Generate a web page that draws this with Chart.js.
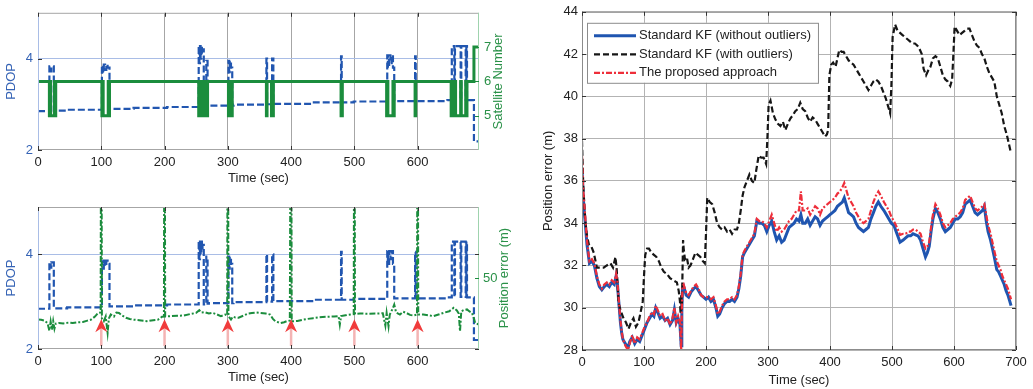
<!DOCTYPE html>
<html>
<head>
<meta charset="utf-8">
<script src="https://cdn.jsdelivr.net/npm/chart.js@4.4.1/dist/chart.umd.min.js"></script>
<style>
  body { margin: 0; background: #fff; width: 1033px; height: 389px; position: relative; overflow: hidden; }
  canvas { position: absolute; }
</style>
</head>
<body>
<canvas id="satChart" width="520" height="190" style="left:0;top:0"></canvas>
<canvas id="errChart" width="520" height="199" style="left:0;top:190px"></canvas>
<canvas id="kfChart" width="513" height="389" style="left:520px;top:0"></canvas>
<script>
// ---- left panels: PDOP, satellites, raw position error ----
var pdopT = [0, 18, 20, 21, 25, 46,
  101, 103, 104, 106, 108, 110, 113, 151, 204,
  254, 255, 256, 257, 258, 259, 260, 262, 266, 268, 270,
  301, 302, 303, 305, 307, 309,
  361, 362, 370, 372, 436,
  479, 480, 499,
  552, 553, 555, 557, 559, 561, 563,
  596, 597, 647,
  654, 658, 659, 668, 669, 676, 677, 678,
  689, 697];
var pdopV = [2.85, 3.83, 3.72, 3.83, 2.86, 2.88,
  3.85, 3.7, 3.87, 3.75, 3.87, 3.8, 2.9, 2.92, 2.94,
  4.27, 3.9, 4.27, 4.0, 4.27, 4.1, 4.2, 2.94, 3.95, 2.96, 2.97,
  3.95, 3.7, 3.95, 3.8, 2.97, 2.99,
  4.0, 3.0, 4.0, 3.01, 3.04,
  4.05, 3.04, 3.06,
  4.07, 3.8, 4.07, 3.9, 4.07, 3.8, 3.07,
  4.05, 3.07, 3.09,
  4.27, 3.1, 4.27, 3.1, 4.27, 3.1, 4.27, 3.09,
  2.19, 2.19];

var satT = [0, 18, 19, 20, 26, 27, 28,
  101, 102, 103, 111, 112, 113,
  254, 255, 256, 257, 258, 259, 260, 262, 266, 268,
  301, 302, 303, 307,
  361, 362, 369, 370, 371, 372,
  479, 481,
  551, 552, 553, 561, 562, 563,
  596, 597,
  653, 654, 655, 659, 660, 668, 669, 676, 677, 678,
  689, 697];
var satV = [6, 5, 6, 5, 6, 5, 6,
  5, 6, 5, 6, 5, 6,
  5, 6, 5, 6, 5, 6, 5, 6, 5, 6,
  5, 6, 5, 6,
  5, 6, 5, 6, 5, 6,
  5, 6,
  5, 6, 5, 6, 5, 6,
  5, 6,
  5, 6, 5, 6, 5, 6, 5, 6, 5, 6,
  7, 7];

var errT = [0, 5, 10, 15, 18, 20, 22, 24, 26, 28,
  33, 40, 48, 55, 63, 71, 78, 84, 90, 95,
  99, 100, 101, 104, 107, 110, 112, 115, 120, 124,
  128, 133, 139, 145, 150, 160, 172, 182, 190, 196,
  199, 200, 201, 210, 220, 230, 240, 250, 255, 258,
  263, 270, 276, 283, 289, 296, 299, 300, 301, 305,
  308, 312, 317, 325, 332, 338, 345, 351, 360, 367,
  371, 375, 383, 389, 393, 398, 400, 401, 410, 418,
  425, 435, 445, 457, 468, 475, 477, 479, 486, 494,
  499, 500, 501, 509, 520, 535, 545, 549, 551, 554,
  556, 560, 563, 566, 572, 577, 582, 588, 593, 599,
  600, 601, 609, 617, 625, 633, 641, 650, 657, 662,
  665, 667, 669, 673, 678, 682, 686, 689, 691, 697];
var errV = [29.5, 29.4, 29.0, 27.8, 24.0, 28.5, 24.5, 28.7, 25.0, 27.5,
  27.8, 27.6, 28.0, 27.8, 28.2, 28.3, 29.0, 29.5, 31.0, 32.8,
  33.0, 200, 30.0, 28.7, 31.0, 23.0, 30.0, 32.0, 31.0, 33.0,
  32.8, 31.5, 30.4, 29.8, 29.5, 29.2, 28.7, 29.2, 29.5, 30.9,
  31.0, 200, 31.0, 31.2, 31.4, 31.5, 32.2, 32.8, 34.1, 33.0,
  33.2, 32.5, 32.8, 32.0, 31.2, 32.0, 31.5, 200, 31.2, 29.5,
  31.0, 30.5, 30.4, 31.5, 32.5, 32.8, 33.0, 32.8, 32.5, 32.0,
  30.0, 28.7, 27.8, 28.2, 28.7, 29.0, 200, 28.7, 28.8, 29.4,
  29.8, 30.2, 30.6, 30.9, 31.0, 31.2, 27.0, 31.2, 31.6, 32.0,
  32.2, 200, 32.3, 32.5, 32.4, 32.5, 32.6, 26.5, 32.8, 26.2,
  32.0, 34.5, 36.9, 33.0, 32.0, 33.4, 32.8, 31.8, 31.5, 32.0,
  200, 32.0, 32.0, 31.6, 31.2, 32.0, 32.8, 33.6, 35.3, 34.0,
  32.5, 23.7, 33.6, 34.2, 34.5, 33.5, 32.8, 30.0, 27.8, 27.0];

var outlierT = [100, 200, 300, 400, 500, 600];
var timeTicksLeft = [0, 100, 200, 300, 400, 500, 600];
var pdopTicks = [2, 4];
var satTicks = [5, 6, 7];
var errTicks = [50];

// ---- right panel: position error of the filters ----
var kfT = [0, 2, 5, 8, 12, 16, 20, 24, 28, 32,
  36, 40, 44, 48, 52, 55, 57, 59, 62, 64,
  66, 70, 74, 77, 81, 85, 89, 93, 97, 101,
  105, 109, 113, 116, 119, 122, 126, 130, 134, 138,
  142, 146, 149, 152, 155, 158, 160, 161, 162, 164,
  168, 172, 176, 180, 184, 188, 192, 196, 200, 204,
  208, 212, 216, 219, 222, 226, 230, 234, 238, 242,
  246, 250, 253, 256, 259, 262, 266, 270, 274, 278,
  282, 286, 290, 294, 298, 302, 306, 310, 314, 318,
  322, 326, 330, 334, 338, 342, 346, 350, 353, 356,
  360, 364, 368, 372, 376, 380, 384, 388, 392, 396,
  400, 404, 408, 412, 416, 420, 423, 426, 430, 434,
  438, 442, 446, 450, 454, 458, 462, 466, 470, 474,
  478, 482, 487, 491, 495, 499, 503, 508, 513, 518,
  522, 526, 530, 534, 538, 542, 546, 550, 554, 557,
  560, 563, 566, 570, 574, 578, 582, 586, 590, 594,
  598, 602, 606, 610, 614, 618, 622, 626, 630, 634,
  638, 642, 646, 649, 652, 655, 659, 662, 665, 669,
  672, 675, 678, 681, 684, 687, 690, 692];
var kfPlain = [36.6, 35.2, 34.1, 33.0, 32.1, 32.2, 32.0, 31.4, 31.0, 30.85,
  31.0, 31.1, 31.0, 31.2, 31.1, 31.5, 31.2, 30.4, 29.3, 28.8,
  28.5, 28.3, 28.1, 28.4, 28.6, 28.3, 28.5, 28.4, 28.7, 29.0,
  29.3, 29.5, 29.7, 29.6, 30.0, 29.8, 29.5, 29.6, 29.4, 29.5,
  29.2, 29.4, 29.9, 29.3, 29.5, 29.2, 28.2, 29.8, 30.9, 31.0,
  30.6, 30.5, 30.75, 30.9, 31.0, 30.8, 30.6, 30.5, 30.4, 30.5,
  30.3, 30.4, 30.0, 29.6, 29.7, 30.0, 30.2, 30.3, 30.3, 30.4,
  30.3, 30.5, 30.9, 31.5, 32.4, 32.6, 32.8, 33.0, 33.2, 33.4,
  34.1, 34.0, 34.0, 33.9, 33.6, 33.9, 34.1, 33.6, 33.2, 33.4,
  33.1, 33.2, 33.5, 33.8, 33.9, 34.0, 34.2, 34.1, 34.4, 34.0,
  34.0, 34.2, 33.9, 34.1, 34.3, 34.2, 33.9, 34.1, 34.2, 34.3,
  34.4, 34.5, 34.6, 34.8, 34.9, 35.0, 35.2, 34.9, 34.5, 34.4,
  34.3, 34.0, 33.8, 33.7, 33.6, 33.7, 33.8, 34.2, 34.5, 34.8,
  35.0, 34.8, 34.6, 34.4, 34.2, 34.0, 33.9, 33.5, 33.1, 33.2,
  33.3, 33.4, 33.4, 33.5, 33.45, 33.4, 33.2, 32.8, 32.4, 32.6,
  32.9, 33.6, 34.2, 34.7, 34.5, 34.2, 33.8, 33.6, 33.7, 33.8,
  34.0, 34.2, 34.2, 34.3, 34.5, 34.9, 35.0, 35.1, 34.8, 34.5,
  34.4, 34.5, 34.6, 34.8, 34.1, 33.6, 33.2, 32.8, 32.4, 31.8,
  31.7, 31.5, 31.3, 31.1, 30.8, 30.6, 30.3, 30.1];
var kfProposed = [37.2, 35.6, 34.4, 33.2, 32.2, 32.3, 32.1, 31.5, 31.1, 30.9,
  31.1, 31.2, 31.1, 31.3, 31.2, 31.6, 31.3, 30.5, 29.4, 28.9,
  28.5, 28.2, 28.0, 28.3, 28.7, 28.3, 28.6, 28.5, 28.8, 29.1,
  29.3, 29.6, 29.8, 29.7, 30.1, 29.9, 29.6, 29.7, 29.4, 29.5,
  29.2, 29.5, 30.0, 29.3, 29.6, 29.3, 28.0, 29.9, 31.0, 31.1,
  30.7, 30.6, 30.8, 31.0, 31.1, 30.9, 30.6, 30.5, 30.5, 30.5,
  30.4, 30.5, 30.1, 29.7, 29.8, 30.1, 30.3, 30.4, 30.4, 30.5,
  30.4, 30.6, 31.0, 31.6, 32.5, 32.7, 32.9, 33.1, 33.3, 33.5,
  34.2, 34.1, 34.1, 34.0, 33.8, 34.1, 34.4, 34.0, 33.6, 33.8,
  33.6, 33.7, 33.9, 34.1, 34.2, 34.4, 34.6, 34.6, 35.5, 34.6,
  34.6, 34.7, 34.4, 34.6, 34.8, 34.7, 34.4, 34.7, 34.8, 34.9,
  35.0, 35.1, 35.2, 35.4, 35.5, 35.7, 35.9, 35.6, 35.2, 35.0,
  34.8, 34.5, 34.3, 34.1, 34.0, 34.1, 34.2, 34.6, 35.0, 35.3,
  35.5, 35.3, 35.0, 34.8, 34.6, 34.3, 34.1, 33.8, 33.45, 33.5,
  33.5, 33.6, 33.6, 33.7, 33.7, 33.6, 33.5, 33.1, 32.8, 32.9,
  33.1, 33.8, 34.4, 34.9, 34.7, 34.4, 34.0, 33.8, 33.9, 34.0,
  34.2, 34.3, 34.4, 34.5, 34.7, 35.1, 35.2, 35.3, 35.0, 34.7,
  34.6, 34.7, 34.8, 34.9, 34.4, 33.9, 33.5, 33.1, 32.7, 32.2,
  32.0, 31.8, 31.5, 31.3, 31.1, 30.9, 30.6, 30.4];

var kfOutT = [0, 2, 5, 8, 11, 15, 19, 24, 30, 35,
  40, 46, 50, 54, 56, 59, 63, 67, 71, 75,
  79, 83, 87, 91, 94, 98, 100, 102, 105, 108,
  112, 116, 120, 124, 128, 132, 137, 142, 147, 153,
  156, 158, 159, 160, 161, 162, 163, 164, 166, 169,
  172, 175, 179, 183, 187, 191, 195, 198, 200, 202,
  206, 210, 214, 218, 222, 226, 230, 234, 238, 242,
  246, 250, 253, 256, 259, 262, 266, 270, 274, 278,
  281, 285, 289, 293, 297, 299, 301, 304, 308, 312,
  316, 320, 324, 328, 332, 336, 340, 344, 348, 352,
  356, 360, 364, 368, 372, 376, 380, 384, 388, 392,
  395, 397, 399, 402, 405, 409, 412, 415, 419, 422,
  426, 430, 434, 438, 442, 446, 450, 454, 458, 462,
  466, 470, 474, 478, 482, 486, 490, 494, 497, 499,
  501, 505, 509, 513, 517, 521, 525, 529, 533, 537,
  541, 545, 548, 551, 555, 558, 562, 566, 570, 574,
  578, 582, 586, 590, 594, 597, 599, 601, 605, 609,
  613, 617, 621, 625, 629, 633, 637, 641, 645, 649,
  653, 657, 661, 665, 669, 673, 677, 681, 685, 689,
  692];
var kfOutlier = [37.9, 35.8, 34.2, 33.4, 33.0, 32.9, 32.6, 31.9, 31.9, 31.9,
  32.0, 32.1, 31.9, 32.4, 31.8, 30.2, 29.8, 29.5, 29.3, 29.0,
  29.3, 29.5, 29.1, 29.3, 29.7, 30.3, 31.5, 32.5, 32.8, 32.8,
  32.6, 32.5, 32.4, 32.2, 31.9, 31.7, 31.6, 31.4, 31.3, 31.2,
  30.8, 30.3, 29.7, 30.6, 29.9, 31.5, 33.2, 32.8, 32.3, 32.4,
  31.9, 32.0, 32.3, 32.6, 32.5, 32.4, 32.2, 32.1, 33.5, 35.2,
  35.0, 34.9, 34.5, 34.0, 33.8, 33.7, 33.8, 33.6, 33.7, 33.5,
  33.7, 33.7, 34.0, 34.6, 35.3, 35.7, 36.0, 36.3, 36.0, 35.9,
  36.5, 37.2, 37.1, 37.1, 36.8, 38.0, 39.6, 39.8, 39.2, 38.9,
  38.7, 38.6, 38.8, 38.4, 38.7, 38.95, 39.1, 39.3, 39.4, 39.7,
  39.4, 39.3, 39.0, 38.8, 39.0, 38.9, 38.7, 38.5, 38.3, 38.1,
  38.2, 38.4, 41.0, 41.5, 41.6, 41.4, 41.8, 42.2, 42.1, 42.1,
  41.9, 41.7, 41.6, 41.5, 41.3, 41.1, 40.9, 40.7, 40.5, 40.3,
  40.5, 40.7, 40.8, 40.7, 40.5, 40.2, 39.9, 39.5, 39.2, 40.5,
  42.8, 43.4, 43.1, 43.0, 42.9, 42.8, 42.7, 42.6, 42.5, 42.5,
  42.4, 42.2, 42.0, 41.3, 41.0, 41.2, 41.4, 41.8, 41.9, 41.8,
  41.4, 41.0, 40.8, 40.7, 40.5, 40.8, 42.0, 43.3, 43.1, 42.9,
  43.0, 43.1, 43.2, 43.2, 42.9, 42.6, 42.4, 42.3, 42.0, 41.8,
  41.4, 41.1, 40.9, 40.7, 40.0, 39.6, 39.2, 38.6, 38.2, 37.7,
  37.3];

var FONT = "'Liberation Sans', Arial, Helvetica, sans-serif";
Chart.defaults.font.family = FONT;
Chart.defaults.font.size = 13;
Chart.defaults.color = '#222';

var BLUE = '#2156b0', GREEN = '#1b8d3d', BLUE_TXT = '#3563b5', GREEN_TXT = '#2a9148';

function pts(xs, ys) {
  return xs.map(function (x, i) { return { x: x, y: ys[i] }; });
}
function fixTicks(list) {
  return function (s) { s.ticks = list.map(function (v) { return { value: v }; }); };
}

// box round the plot area plus small inward tick marks, matlab style
function framePlugin(edges, marks) {
  return {
    id: 'frame',
    afterDraw: function (chart) {
      var ctx = chart.ctx, a = chart.chartArea;
      ctx.save();
      ctx.lineWidth = 1;
      function line(c, x1, y1, x2, y2) {
        ctx.strokeStyle = c; ctx.beginPath(); ctx.moveTo(x1, y1); ctx.lineTo(x2, y2); ctx.stroke();
      }
      line(edges.top, a.left, a.top + 0.5, a.right, a.top + 0.5);
      line(edges.bottom, a.left, a.bottom - 0.5, a.right, a.bottom - 0.5);
      line(edges.left, a.left + 0.5, a.top, a.left + 0.5, a.bottom);
      line(edges.right, a.right - 0.5, a.top, a.right - 0.5, a.bottom);
      marks.forEach(function (m) {
        var s = chart.scales[m.scale];
        s.ticks.forEach(function (t) {
          var p = Math.round(s.getPixelForValue(t.value)) + 0.5;
          m.sides.forEach(function (side) {
            if (side === 'bottom') line(m.color, p, a.bottom, p, a.bottom - 4);
            if (side === 'top') line(m.color, p, a.top, p, a.top + 4);
            if (side === 'left') line(m.color, a.left, p, a.left + 4, p);
            if (side === 'right') line(m.color, a.right, p, a.right - 4, p);
          });
        });
      });
      ctx.restore();
    }
  };
}

// vertical axis titles, both read bottom to top
function sideTitles(items) {
  return {
    id: 'sideTitles',
    afterDraw: function (chart) {
      var ctx = chart.ctx, a = chart.chartArea;
      items.forEach(function (it) {
        var x = it.side === 'left' ? a.left - it.gap : a.right + it.gap;
        ctx.save();
        ctx.translate(x, (a.top + a.bottom) / 2);
        ctx.rotate(-Math.PI / 2);
        ctx.font = '13px ' + FONT;
        ctx.fillStyle = it.color;
        ctx.textAlign = 'center';
        ctx.textBaseline = 'middle';
        ctx.fillText(it.text, 0, 0);
        ctx.restore();
      });
    }
  };
}

var arrowPlugin = {
  id: 'outlierArrows',
  afterDatasetsDraw: function (chart) {
    var ctx = chart.ctx, a = chart.chartArea;
    var xs = chart.scales.x, ys = chart.scales.y;
    var tip = ys.getPixelForValue(2.63);
    ctx.save();
    outlierT.forEach(function (t) {
      var x = xs.getPixelForValue(t);
      ctx.strokeStyle = '#f4b4b4';
      ctx.lineWidth = 2.5;
      ctx.beginPath(); ctx.moveTo(x, a.bottom - 3); ctx.lineTo(x, tip + 8); ctx.stroke();
      ctx.fillStyle = '#f03b3b';
      ctx.beginPath();
      ctx.moveTo(x, tip);
      ctx.lineTo(x + 6, tip + 13);
      ctx.lineTo(x, tip + 9);
      ctx.lineTo(x - 6, tip + 13);
      ctx.closePath();
      ctx.fill();
    });
    ctx.restore();
  }
};

var boxLegend = {
  id: 'boxLegend',
  afterDraw: function (chart) {
    var ctx = chart.ctx, a = chart.chartArea;
    var sets = chart.data.datasets;
    ctx.save();
    ctx.font = '13px ' + FONT;
    var textW = Math.max.apply(null, sets.map(function (d) { return ctx.measureText(d.label).width; }));
    var x0 = a.left + 5, y0 = a.top + 11;
    var w = 52 + textW + 7, h = 60;
    ctx.fillStyle = '#fff';
    ctx.fillRect(x0, y0, w, h);
    ctx.strokeStyle = '#8c8c8c';
    ctx.lineWidth = 1;
    ctx.strokeRect(x0 + 0.5, y0 + 0.5, w, h);
    sets.forEach(function (d, i) {
      var y = y0 + 13 + i * 18.5;
      ctx.strokeStyle = d.borderColor;
      ctx.lineWidth = d.borderWidth;
      ctx.setLineDash(d.borderDash || []);
      ctx.beginPath(); ctx.moveTo(x0 + 7, y); ctx.lineTo(x0 + 49, y); ctx.stroke();
      ctx.setLineDash([]);
      ctx.fillStyle = '#222';
      ctx.textBaseline = 'middle';
      ctx.fillText(d.label, x0 + 52, y);
    });
    ctx.restore();
  }
};

function leftXAxis() {
  return {
    type: 'linear', min: 0, max: 697,
    afterBuildTicks: fixTicks(timeTicksLeft),
    afterFit: function (s) { s.height = 40; },
    grid: { color: '#a6a6a6', drawTicks: false },
    border: { display: false },
    ticks: { padding: 5, color: '#222' },
    title: { display: true, text: 'Time (sec)', color: '#222', padding: { top: 0, bottom: 4 } }
  };
}
function pdopAxis() {
  return {
    type: 'linear', position: 'left', min: 2, max: 5,
    afterBuildTicks: fixTicks(pdopTicks),
    afterFit: function (s) { s.width = 38; },
    grid: { drawTicks: false, color: function (c) { return c.tick && c.tick.value === 4 ? '#a9bde6' : 'rgba(0,0,0,0)'; } },
    border: { display: false },
    ticks: { padding: 5, color: BLUE_TXT }
  };
}

new Chart(document.getElementById('satChart'), {
  type: 'line',
  data: {
    datasets: [
      { label: 'Satellite Number', data: pts(satT, satV), yAxisID: 'y2', borderColor: GREEN, borderWidth: 3,
        stepped: true, pointRadius: 0 },
      { label: 'PDOP', data: pts(pdopT, pdopV), yAxisID: 'y', borderColor: BLUE, borderWidth: 2.2,
        borderDash: [7, 3], stepped: true, pointRadius: 0 }
    ]
  },
  options: {
    responsive: false, animation: false,
    layout: { padding: { top: 7 } },
    plugins: { legend: { display: false }, tooltip: { enabled: false } },
    scales: {
      x: leftXAxis(),
      y: pdopAxis(),
      y2: {
        type: 'linear', position: 'right', min: 4, max: 8,
        afterBuildTicks: fixTicks(satTicks),
        afterFit: function (s) { s.width = 41; },
        grid: { display: false, drawTicks: false },
        border: { display: false },
        ticks: { padding: 5, color: GREEN_TXT }
      }
    }
  },
  plugins: [
    framePlugin({ top: '#a6a6a6', bottom: '#a6a6a6', left: '#a9bde6', right: '#9fd3ae' },
      [{ scale: 'x', sides: ['top', 'bottom'], color: '#333' },
       { scale: 'y', sides: ['left'], color: '#333' },
       { scale: 'y2', sides: ['right'], color: GREEN }]),
    sideTitles([{ text: 'PDOP', side: 'left', gap: 27, color: BLUE_TXT },
                { text: 'Satellite Number', side: 'right', gap: 19, color: GREEN_TXT }])
  ]
});

new Chart(document.getElementById('errChart'), {
  type: 'line',
  data: {
    datasets: [
      { label: 'Position error', data: pts(errT, errV), yAxisID: 'y2', borderColor: GREEN, borderWidth: 2,
        borderDash: [6, 2, 2, 2], pointRadius: 0 },
      { label: 'PDOP', data: pts(pdopT, pdopV), yAxisID: 'y', borderColor: BLUE, borderWidth: 2.2,
        borderDash: [7, 3], stepped: true, pointRadius: 0 }
    ]
  },
  options: {
    responsive: false, animation: false,
    layout: { padding: { top: 17 } },
    plugins: { legend: { display: false }, tooltip: { enabled: false } },
    scales: {
      x: leftXAxis(),
      y: pdopAxis(),
      y2: {
        type: 'linear', position: 'right', min: 15, max: 85,
        afterBuildTicks: fixTicks(errTicks),
        afterFit: function (s) { s.width = 41; },
        grid: { display: false, drawTicks: false },
        border: { display: false },
        ticks: { padding: 4, color: GREEN_TXT }
      }
    }
  },
  plugins: [
    arrowPlugin,
    framePlugin({ top: '#a6a6a6', bottom: '#a6a6a6', left: '#a9bde6', right: '#9fd3ae' },
      [{ scale: 'x', sides: ['top', 'bottom'], color: '#333' },
       { scale: 'y', sides: ['left', 'right'], color: '#333' },
       { scale: 'y2', sides: ['right'], color: GREEN }]),
    sideTitles([{ text: 'PDOP', side: 'left', gap: 27, color: BLUE_TXT },
                { text: 'Position error (m)', side: 'right', gap: 25, color: GREEN_TXT }])
  ]
});

new Chart(document.getElementById('kfChart'), {
  type: 'line',
  data: {
    datasets: [
      { label: 'Standard KF (without outliers)', data: pts(kfT, kfPlain), borderColor: '#1f55b0',
        borderWidth: 3, pointRadius: 0, order: 2 },
      { label: 'Standard KF (with outliers)', data: pts(kfOutT, kfOutlier), borderColor: '#161616',
        borderWidth: 2.2, borderDash: [6, 3], pointRadius: 0, order: 1 },
      { label: 'The proposed approach', data: pts(kfT, kfProposed), borderColor: '#ee2e3a',
        borderWidth: 2.2, borderDash: [6, 2, 2, 2], pointRadius: 0, order: 0 }
    ]
  },
  options: {
    responsive: false, animation: false,
    layout: { padding: { top: 9, right: 17 } },
    plugins: { legend: { display: false }, tooltip: { enabled: false } },
    scales: {
      x: {
        type: 'linear', min: 0, max: 700,
        afterFit: function (s) { s.height = 39; },
        grid: { color: '#b3b3b3', drawTicks: false },
        border: { display: false },
        ticks: { stepSize: 100, padding: 5, color: '#222' },
        title: { display: true, text: 'Time (sec)', color: '#222', padding: { top: 0, bottom: 1 } }
      },
      y: {
        type: 'linear', min: 28, max: 44,
        afterFit: function (s) { s.width = 62; },
        grid: { color: '#b3b3b3', drawTicks: false },
        border: { display: false },
        ticks: { stepSize: 2, padding: 4, color: '#222' }
      }
    }
  },
  plugins: [
    framePlugin({ top: '#8c8c8c', bottom: '#8c8c8c', left: '#8c8c8c', right: '#8c8c8c' },
      [{ scale: 'x', sides: ['top', 'bottom'], color: '#333' },
       { scale: 'y', sides: ['left', 'right'], color: '#333' }]),
    sideTitles([{ text: 'Position error (m)', side: 'left', gap: 34, color: '#222' }]),
    boxLegend
  ]
});
</script>
</body>
</html>
